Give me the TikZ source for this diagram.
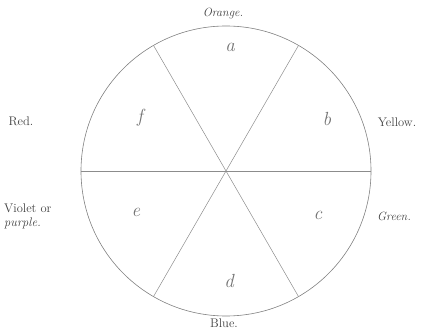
\documentclass[tikz,border=0pt]{standalone}
\usepackage{amsmath,amssymb}
\usetikzlibrary{calc}

\begin{document}
\begin{tikzpicture}[x=1pt, y=1pt,
    every node/.style={font=\fontsize{12.5}{14}\selectfont, text=black!75},
    hue/.style={font=\fontsize{12}{14}\selectfont\itshape},
    sector/.style={font=\fontsize{19}{20}\selectfont\itshape, text=black!55}]
  \useasboundingbox (0,0) rectangle (422,334);

  % Wheel
  \coordinate (O) at (226,163);
  \draw[black!50, line width=0.6pt] (O) circle (145);

  % Diameters
  \foreach \ang in {0,60,120}
    \draw[black!45, line width=0.5pt] ($(O)+(\ang:145)$) -- ($(O)+(\ang+180:145)$);

  % Sectors
  \node[sector] (sa) at (230,287) {a};
  \node[sector] (sb) at (327,215) {b};
  \node[sector] (sc) at (318,119) {c};
  \node[sector] (sd) at (229,53) {d};
  \node[sector] (se) at (136,122) {e};
  \node[sector] (sf) at (140,216) {f};

  % Colour names
  \node[hue] (orange) at (223,320) {Orange.};
  \node (yellow) at (397,212) {Yellow.};
  \node[hue] (green) at (394,118) {Green.};
  \node (blue) at (224,11) {Blue.};
  \node[align=left, anchor=west, inner sep=0pt] (violet) at (4,118) {Violet or\\ \itshape purple.};
  \node (red) at (21,213) {Red.};
\end{tikzpicture}
\end{document}
